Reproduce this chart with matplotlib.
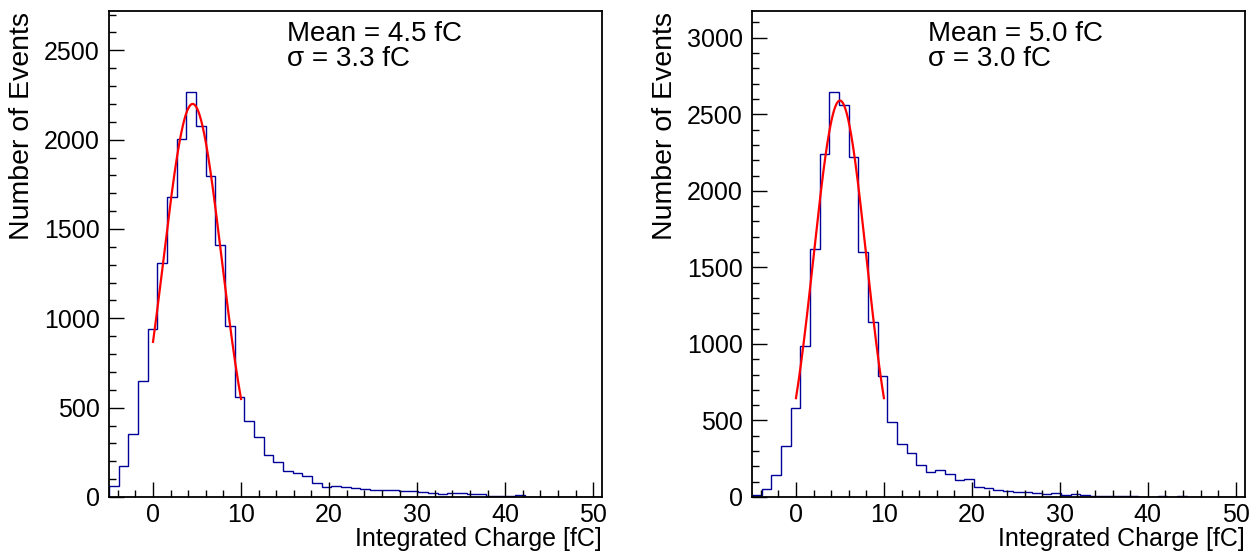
import numpy as np
import matplotlib
matplotlib.use("Agg")
import matplotlib.pyplot as plt
from matplotlib.ticker import MultipleLocator

plt.rcParams['font.family'] = ['Liberation Sans', 'DejaVu Sans']

# histogram binning: 51 bins from -5 to 51 fC
x_min, x_max, n_bins = -5.0, 51.0, 51

counts_left = [64, 176, 355, 647, 939, 1308, 1677, 2006, 2267, 2077,
               1798, 1412, 956, 561, 428, 337, 236, 195, 146, 137,
               118, 77, 58, 62, 58, 52, 45, 39, 39, 41,
               36, 32, 30, 22, 17, 22, 22, 17, 15, 6,
               6, 4, 9, 2, 1, 1, 0, 0, 0, 0, 0]
counts_right = [15, 52, 143, 333, 580, 989, 1622, 2243, 2646, 2559,
                2220, 1598, 1141, 793, 490, 345, 289, 206, 161, 176,
                148, 111, 115, 67, 61, 43, 39, 35, 35, 24,
                22, 24, 13, 17, 11, 9, 4, 9, 9, 4,
                2, 2, 4, 2, 4, 0, 0, 2, 0, 0, 0]

# Gaussian fit parameters (amplitude, mean, sigma) and fit range
fit_left = (2200, 4.5, 3.3)
fit_right = (2590, 5.0, 3.0)
fit_range = (0.0, 10.0)

labels_left = ["Mean = 4.5 fC", "\u03c3 = 3.3 fC"]
labels_right = ["Mean = 5.0 fC", "\u03c3 = 3.0 fC"]
ymax_left = 2720
ymax_right = 3175

W, H = 1258, 554
fig = plt.figure(figsize=(W / 100, H / 100), dpi=100)

FS_TICK = 18
FS_XLAB = 18
FS_YLAB = 20.5
FS_STAT = 20
hist_color = '#000099'


def panel(px_left, px_right, counts, fit, labels, ymax, text_x):
    ax = fig.add_axes([px_left / W, (H - 497) / H, (px_right - px_left) / W, (497 - 11) / H])
    edges = np.linspace(x_min, x_max, n_bins + 1)
    ax.stairs(counts, edges, color=hist_color, linewidth=1.0, baseline=0)
    A, mu, sig = fit
    xf = np.linspace(fit_range[0], fit_range[1], 300)
    ax.plot(xf, A * np.exp(-0.5 * ((xf - mu) / sig) ** 2), color='red', linewidth=1.6)
    ax.set_xlim(x_min, x_max)
    ax.set_ylim(0, ymax)
    ax.xaxis.set_major_locator(MultipleLocator(10))
    ax.xaxis.set_minor_locator(MultipleLocator(2))
    ax.yaxis.set_major_locator(MultipleLocator(500))
    ax.yaxis.set_minor_locator(MultipleLocator(100))
    ax.tick_params(which='both', direction='in', top=False, right=False, labelsize=FS_TICK, width=1.0)
    ax.tick_params(which='major', length=10.5)
    ax.tick_params(which='minor', length=5.3)
    ax.tick_params(axis='y', pad=6.5)
    ax.tick_params(axis='x', pad=4.5)
    for s in ax.spines.values():
        s.set_linewidth(1.3)
    fig.text(px_left / W - 87 / W, 1 - 12 / H, "Number of Events", rotation=90,
             ha='center', va='top', fontsize=FS_YLAB)
    fig.text(px_right / W, 1 - 546 / H, "Integrated Charge [fC]", ha='right',
             va='baseline', fontsize=FS_XLAB)
    fig.text(text_x / W, 1 - 41 / H, labels[0], ha='left', va='baseline', fontsize=FS_STAT)
    fig.text(text_x / W, 1 - 66 / H, labels[1], ha='left', va='baseline', fontsize=FS_STAT)
    return ax


panel(109, 602, counts_left, fit_left, labels_left, ymax_left, 287)
panel(752, 1244.5, counts_right, fit_right, labels_right, ymax_right, 928)

fig.savefig("out.png", dpi=100)
